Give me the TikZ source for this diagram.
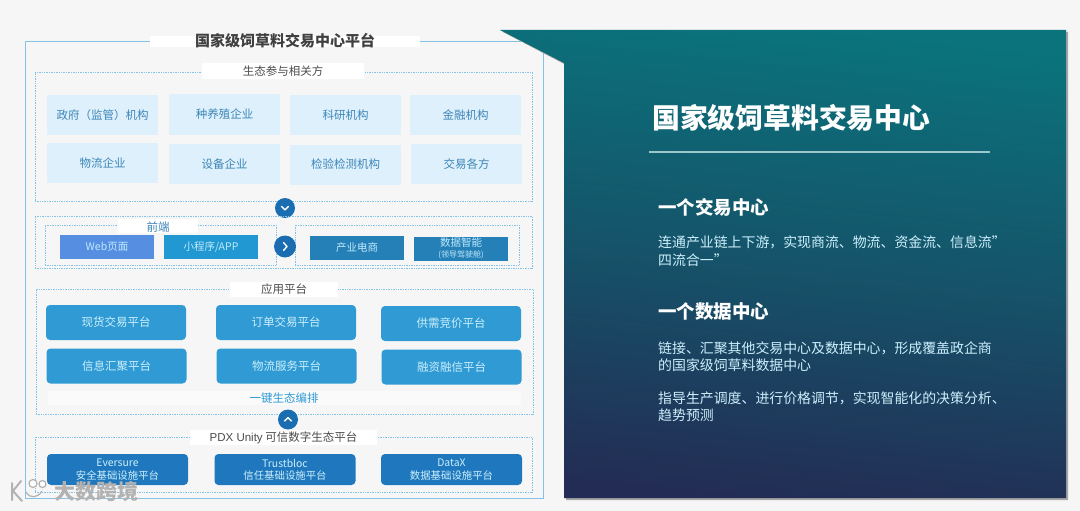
\documentclass[tikz,border=0pt]{standalone}
\usepackage{fontspec}
\setmainfont{Noto Sans CJK SC}
\newfontfamily\latinfont{Liberation Sans}
\definecolor{pagebg}{HTML}{F6F6F6}
\definecolor{framecol}{HTML}{85C3E6}
\definecolor{cellcol}{HTML}{DDF0FB}
\definecolor{celltext}{HTML}{3E86B8}
\definecolor{appcol}{HTML}{2F9AD3}
\definecolor{basecol}{HTML}{1F78BD}
\definecolor{circcol}{HTML}{1A6DB0}
\definecolor{webcol}{HTML}{568FE2}
\definecolor{minicol}{HTML}{2198D2}
\definecolor{shopcol}{HTML}{2680B8}
\definecolor{topcol}{HTML}{0A737B}
\definecolor{botcol}{HTML}{232C54}
\newcommand{\fsize}[1]{\fontsize{#1}{#1}\selectfont}
\begin{document}
\begin{tikzpicture}[x=1pt,y=-1pt,
    outer box/.style={draw=framecol,line width=1pt,inner sep=0pt},
    dot box/.style={draw=framecol,densely dotted,line width=0.7pt,inner sep=0pt},
    tag/.style={fill=white,inner sep=0pt,text=black!70,font=\fsize{11.5}},
    cell/.style={fill=cellcol,text=celltext,minimum width=111pt,minimum height=40pt,inner sep=0pt,font=\fsize{11.5}},
    front/.style={text=white!75!cyan,minimum width=94pt,minimum height=24pt,inner sep=0pt,font=\fsize{10.5},align=center},
    app/.style={fill=appcol,rounded corners=4pt,text=white!80!cyan,minimum width=140pt,minimum height=35pt,inner sep=0pt,font=\fsize{11.5}},
    base/.style={fill=basecol,rounded corners=4pt,text=white!80!cyan,minimum width=141pt,minimum height=31pt,inner sep=0pt,font=\fsize{10.4},align=center},
    round btn/.style={circle,fill=circcol,minimum size=20pt,inner sep=0pt},
    chev/.style={draw=white,line width=1.4pt,line cap=round,line join=round},
    side text/.style={anchor=west,text=white!80!cyan,inner sep=0pt,font=\fsize{13.9}},
    side head/.style={anchor=west,text=white,inner sep=0pt,font=\fsize{18.5}\bfseries}]

    \useasboundingbox (0,0) rectangle (1080,511);
    \fill[pagebg] (0,0) rectangle (1080,511);

    % left frame
    \node[outer box,minimum width=518pt,minimum height=456pt] (outer) at (284,270) {};
    \node[fill=white,minimum width=270pt,minimum height=11pt,inner sep=0pt] (titlebg) at (285,41.5) {};
    \node[inner sep=0pt,text=black!75,font=\fsize{15}\bfseries] (title) at (285,41) {国家级饲草料交易中心平台};

    % ecosystem
    \node[dot box,minimum width=497pt,minimum height=129pt] (eco) at (283.5,136.5) {};
    \node[fill=white,minimum width=162pt,minimum height=16pt,inner sep=0pt] (ecobg) at (283,71) {};
    \node[tag] (ecotag) at (283,71) {生态参与相关方};
    \node[cell] (1) at (102.5,115) {政府（监管）机构};
    \node[cell] (2) at (224.5,114.5) {种养殖企业};
    \node[cell] (3) at (345.5,115) {科研机构};
    \node[cell] (4) at (465.5,115) {金融机构};
    \node[cell] (5) at (102.5,163) {物流企业};
    \node[cell] (6) at (224.5,164) {设备企业};
    \node[cell] (7) at (345.5,164.5) {检验检测机构};
    \node[cell] (8) at (466.5,164) {交易各方};

    \node[round btn] (down) at (285,208) {};
    \draw[chev] ([shift={(-3.5,-1.5)}]down.center) -- ([shift={(0,1.8)}]down.center) -- ([shift={(3.5,-1.5)}]down.center);

    % front end
    \node[dot box,minimum width=497pt,minimum height=52pt] (fbox) at (283.5,242) {};
    \node[dot box,minimum width=231pt,minimum height=40pt] (fleft) at (160.5,245) {};
    \node[dot box,minimum width=224pt,minimum height=40pt] (fright) at (407,245) {};
    \node[fill=white,minimum width=80pt,minimum height=14pt,inner sep=0pt] (fbg) at (158,226) {};
    \node[inner sep=0pt,text=celltext,font=\fsize{11.5}] (ftag) at (158,227) {前端};
    \node[front,fill=webcol] (web) at (107,247) {Web页面};
    \node[front,fill=minicol] (mini) at (211,247) {小程序/APP};
    \node[front,fill=shopcol] (shop) at (357,248) {产业电商};
    \node[front,fill=shopcol] (smart) at (461,248.5) {数据智能\\[1pt]{\fsize{8}(领导驾驶舱)}};
    \node[round btn,minimum size=22pt] (next) at (285,246.5) {};
    \draw[chev] ([shift={(-1.5,-4)}]next.center) -- ([shift={(2,0)}]next.center) -- ([shift={(-1.5,4)}]next.center);

    % platforms
    \node[dot box,minimum width=497pt,minimum height=125pt] (apps) at (284.5,351.5) {};
    \node[fill=white,minimum width=108pt,minimum height=15pt,inner sep=0pt] (appbg) at (284,289.5) {};
    \node[tag] (apptag) at (284,289) {应用平台};
    \node[app] (a1) at (116,322.5) {现货交易平台};
    \node[app] (a2) at (286,322.5) {订单交易平台};
    \node[app] (a3) at (451,323.5) {供需竞价平台};
    \node[app] (a4) at (116.5,366) {信息汇聚平台};
    \node[app] (a5) at (286.5,366) {物流服务平台};
    \node[app] (a6) at (451.5,367) {融资融信平台};
    \node[fill=white!40!pagebg,minimum width=473pt,minimum height=14pt,inner sep=0pt] (strip) at (284.5,398) {};
    \node[inner sep=0pt,text=appcol,font=\fsize{11.5}] (one) at (284,398) {一键生态编排};

    \node[round btn] (up) at (288,419.5) {};
    \draw[chev] ([shift={(-3.5,1.5)}]up.center) -- ([shift={(0,-1.8)}]up.center) -- ([shift={(3.5,1.5)}]up.center);

    % base layer
    \node[dot box,minimum width=497pt,minimum height=55pt] (pdx) at (283.5,464.5) {};
    \node[fill=white,minimum width=187pt,minimum height=15pt,inner sep=0pt] (pdxbg) at (283.5,437.5) {};
    \node[inner sep=0pt,text=black!70,font=\fsize{11.5}] (pdxtag) at (283.5,438) {{\latinfont PDX Unity} 可信数字生态平台};
    \node[base] (b1) at (117.5,469.5) {Eversure\\[2pt]安全基础设施平台};
    \node[base] (b2) at (285,469.5) {Trustbloc\\[2pt]信任基础设施平台};
    \node[base] (b3) at (451.5,469.5) {DataX\\[2pt]数据基础设施平台};

    % watermark
    \draw[gray!60,line width=2pt,line cap=round] (12,483) -- (12,500) (21,481) -- (13,491) -- (22,501);
    \draw[gray!60,line width=1.2pt,fill=white] (33,483.5) circle (4pt) (42.5,484) circle (3.5pt);
    \draw[gray!60,line width=1.2pt] (26,492) .. controls (30,499) and (38,498) .. (42,491);
    \node[inner sep=0pt,text=gray!60,font=\fsize{21}\bfseries] (mark) at (96,491.5) {大数跨境};

    % right panel
    \fill[black!35] (503,32) -- (1068,32) -- (1068,500) -- (566,500) -- (566,65) -- cycle;
    \shade[top color=topcol,bottom color=botcol,middle color=topcol!55!botcol,shading angle=-6]
        (500,30) -- (1066,30) -- (1066,498) -- (564,498) -- (564,63) -- cycle;

    \node[anchor=west,inner sep=0pt,text=white,font=\fsize{27.8}\bfseries] (head) at (652,118) {国家级饲草料交易中心};
    \coordinate (l1) at (649,151.5);
    \coordinate (l2) at (990,151.5);
    \draw[line width=2pt,draw=white!60!topcol] (l1) to (l2);

    \node[side head] (s1) at (658,207) {一个交易中心};
    \node[side text] (t1) at (658,242.5) {连通产业链上下游，实现商流、物流、资金流、信息流”};
    \node[side text] (t2) at (658,260) {四流合一”};
    \node[side head] (s2) at (658,312) {一个数据中心};
    \node[side text] (t3) at (658,348) {链接、汇聚其他交易中心及数据中心，形成覆盖政企商};
    \node[side text] (t4) at (658,365) {的国家级饲草料数据中心};
    \node[side text] (t5) at (658,398) {指导生产调度、进行价格调节，实现智能化的决策分析、};
    \node[side text] (t6) at (658,415) {趋势预测};
\end{tikzpicture}
\end{document}
